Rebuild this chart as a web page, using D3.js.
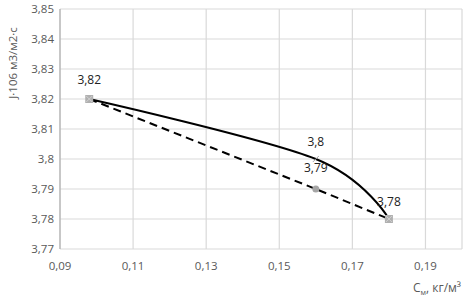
<!DOCTYPE html>
<html>
<head>
<meta charset="utf-8">
<script src="https://cdn.jsdelivr.net/npm/d3@7"></script>
<style>
  body { margin: 0; background: #fff; }
  text { font-family: "Open Sans", "Liberation Sans", sans-serif; }
</style>
</head>
<body>
<div id="chart"></div>
<script>
// data
var concentration = [0.098, 0.16, 0.18];
var fluxSolid = [3.82, 3.80, 3.78];
var fluxDashed = [3.82, 3.79, 3.78];
var xTicks = [0.09, 0.11, 0.13, 0.15, 0.17, 0.19];
var yTicks = [3.77, 3.78, 3.79, 3.80, 3.81, 3.82, 3.83, 3.84, 3.85];

var dim = { width: 474, height: 302 };
var margin = { top: 9, right: 12, bottom: 53, left: 60 };

var svg = d3.select('#chart').append('svg')
    .attr('width', dim.width)
    .attr('height', dim.height);

var xScale = d3.scaleLinear()
    .domain([0.09, 0.20])
    .range([margin.left, dim.width - margin.right]);

var yScale = d3.scaleLinear()
    .domain([3.77, 3.85])
    .range([dim.height - margin.bottom, margin.top]);

var comma = function(v) { return String(+v.toFixed(2)).replace('.', ','); };

// grid
var grid = svg.append('g');
grid.selectAll('line.h').data(yTicks).enter().append('line')
    .attr('x1', xScale(0.09)).attr('x2', xScale(0.20))
    .attr('y1', d => yScale(d)).attr('y2', d => yScale(d))
    .attr('stroke', '#d9d9d9').attr('stroke-width', 1.2);
grid.selectAll('line.v').data(xTicks.concat([0.20])).enter().append('line')
    .attr('x1', d => xScale(d)).attr('x2', d => xScale(d))
    .attr('y1', yScale(3.77)).attr('y2', yScale(3.85))
    .attr('stroke', '#d9d9d9').attr('stroke-width', 1.2);

// left axis line
svg.append('line')
    .attr('x1', xScale(0.09)).attr('x2', xScale(0.09))
    .attr('y1', yScale(3.77)).attr('y2', yScale(3.85))
    .attr('stroke', '#a6a6a6');

// tick labels
svg.selectAll('text.yt').data(yTicks).enter().append('text')
    .attr('x', xScale(0.09) - 6)
    .attr('y', d => yScale(d) + 4)
    .attr('text-anchor', 'end')
    .attr('font-size', 11.5)
    .attr('fill', '#595959')
    .text(comma);

svg.selectAll('text.xt').data(xTicks).enter().append('text')
    .attr('x', d => xScale(d))
    .attr('y', yScale(3.77) + 21)
    .attr('text-anchor', 'middle')
    .attr('font-size', 11.5)
    .attr('fill', '#595959')
    .text(comma);

// axis titles
svg.append('text')
    .attr('transform', 'translate(17,63) rotate(-90)')
    .attr('text-anchor', 'middle')
    .attr('font-size', 11.5)
    .attr('fill', '#595959')
    .text('J·106 м3/м2·с');

var xt = svg.append('text')
    .attr('x', 461).attr('y', 292)
    .attr('text-anchor', 'end')
    .attr('font-size', 12)
    .attr('fill', '#595959');
xt.append('tspan').text('C');
xt.append('tspan').attr('font-size', 7.5).attr('dy', 3).text('м');
xt.append('tspan').attr('dy', -3).text(', кг/м³');

// lines
var solid = d3.line()
    .x((d, i) => xScale(concentration[i]))
    .y(d => yScale(d))
    .curve(d3.curveCardinal.tension(0));

var straight = d3.line()
    .x((d, i) => xScale(concentration[i]))
    .y(d => yScale(d));

svg.append('path').datum(fluxDashed)
    .attr('d', straight)
    .attr('fill', 'none')
    .attr('stroke', '#000')
    .attr('stroke-width', 2)
    .attr('stroke-dasharray', '8,5');

svg.append('path').datum(fluxSolid)
    .attr('d', solid)
    .attr('fill', 'none')
    .attr('stroke', '#000')
    .attr('stroke-width', 2);

// markers
[0, 2].forEach(function(i) {
    var cx = xScale(concentration[i]), cy = yScale(fluxSolid[i]);
    svg.append('rect')
        .attr('x', cx - 4).attr('y', cy - 4)
        .attr('width', 8).attr('height', 8)
        .attr('fill', '#b0b0b0');
    svg.append('path')
        .attr('d', 'M' + (cx - 3) + ',' + (cy - 3) + 'L' + (cx + 3) + ',' + (cy + 3) +
                   'M' + (cx + 3) + ',' + (cy - 3) + 'L' + (cx - 3) + ',' + (cy + 3))
        .attr('stroke', '#d0d0d0').attr('stroke-width', 1);
});
svg.append('circle')
    .attr('cx', xScale(concentration[1])).attr('cy', yScale(fluxDashed[1]))
    .attr('r', 3.5).attr('fill', '#a6a6a6');
svg.append('path')
    .attr('d', 'M' + (xScale(concentration[1]) - 3) + ',' + (yScale(fluxSolid[1]) + 3) +
               'L' + (xScale(concentration[1]) + 3) + ',' + (yScale(fluxSolid[1]) - 3))
    .attr('stroke', '#a6a6a6').attr('stroke-width', 1);

// data labels
var labels = [
    { i: 0, v: fluxSolid[0], dy: -15 },
    { i: 1, v: fluxSolid[1], dy: -13 },
    { i: 1, v: fluxDashed[1], dy: -17 },
    { i: 2, v: fluxSolid[2], dy: -13 }
];
svg.selectAll('text.dl').data(labels).enter().append('text')
    .attr('x', d => xScale(concentration[d.i]))
    .attr('y', d => yScale(d.v) + d.dy)
    .attr('text-anchor', 'middle')
    .attr('font-size', 12)
    .attr('fill', '#222')
    .text(d => comma(d.v));
</script>
</body>
</html>
